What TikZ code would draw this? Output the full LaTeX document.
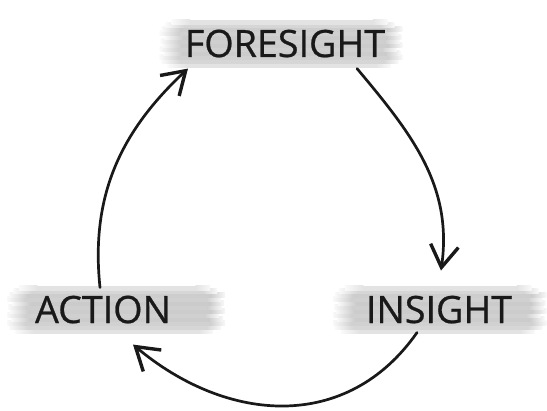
\documentclass[tikz,border=0pt]{standalone}
\usepackage{fontspec}
\setmainfont{Open Sans}
\newfontfamily\stagefont{Open Sans}[FakeBold=0.7]
\usetikzlibrary{arrows.meta,calc,backgrounds}

\tikzset{
  stage/.style={inner sep=0pt,anchor=base,font=\fontsize{37.8}{40}\stagefont,text=black!90},
  cyclearrow/.style={->,line width=2.7bp,line cap=round,line join=round,draw=black!90},
}

% gray brush streaks behind a label: #1 node, #2 left reach, #3 right reach
\newcommand\brushstroke[3]{%
  \begin{scope}[on background layer]
  \foreach \dy/\a/\b/\g in {-10/8/12/22, -6/2/4/32, -2/0/0/36, 2/4/2/40, 6/0/6/37,
      10/3/0/40, 14/1/3/38, 18/5/1/41, 22/0/4/37, 26/2/0/39, 30/6/8/32, 33/12/15/22}
  {
    \fill [gray!\g] ($(#1.south west)+(-#2+\a+18,\dy)$) rectangle ($(#1.south east)+(#3-\b-14,\dy+5)$);
    \shade [left color=gray!4,right color=gray!\g]
      ($(#1.south west)+(-#2+\a,\dy)$) rectangle ($(#1.south west)+(-#2+\a+18.5,\dy+5)$);
    \shade [left color=gray!\g,right color=gray!5]
      ($(#1.south east)+(#3-\b-14.5,\dy)$) rectangle ($(#1.south east)+(#3-\b,\dy+5)$);
  }
  \end{scope}}

\begin{document}
\begin{tikzpicture}[x=1bp,y=1bp,>={Straight Barb[length=22bp,width=28bp,line width=3.4bp]}]
\useasboundingbox (0,0) rectangle (547,410);
%%
\node (foresight) at (285bp,353bp) [stage] {FORESIGHT};
  \node (insight) at (439bp,87bp) [stage] {INSIGHT};
  \node (action) at (103bp,87bp) [stage] {ACTION};
  \brushstroke{foresight}{25}{17}
  \brushstroke{insight}{33}{34}
  \brushstroke{action}{28}{54}
  \draw [cyclearrow] ([shift={(72,-11)}]foresight.south) to[out=-50,in=82] ([shift={(2,25)}]insight.north);
  \draw [cyclearrow] ([shift={(-22,-9)}]insight.south) to[out=-125,in=-40,looseness=1.1] ([shift={(30,-21)}]action.south);
  \draw [cyclearrow] ([shift={(-3,8)}]action.north) to[out=96,in=-137] ([shift={(-97,-11)}]foresight.south);
%
\end{tikzpicture}
\end{document}
